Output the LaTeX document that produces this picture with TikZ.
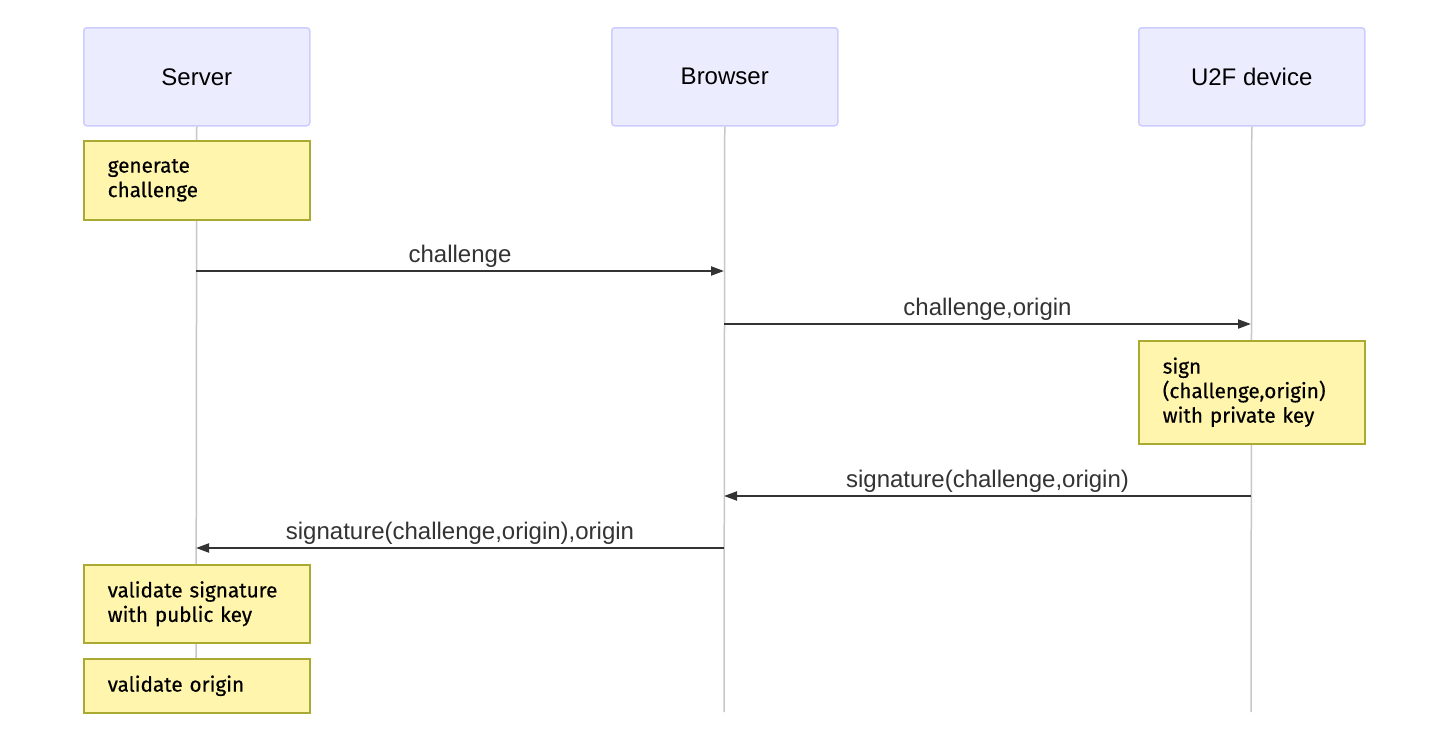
\documentclass[tikz,border=0pt]{standalone}
\usepackage{fontspec}
\setmainfont{Liberation Sans}
\newfontfamily\notefont[FakeBold=0.4]{Fira Sans}
\usetikzlibrary{arrows.meta}
\definecolor{actfill}{HTML}{ECECFF}
\definecolor{actdraw}{HTML}{CCCCFF}
\definecolor{notefill}{HTML}{FFF5AD}
\definecolor{notedraw}{HTML}{AAAA33}
\definecolor{msgcol}{HTML}{333333}
\tikzset{
  actor/.style={draw=actdraw, fill=actfill, line width=1.5pt, rounded corners=3pt,
    minimum width=226pt, minimum height=98pt, anchor=north west, inner sep=0pt,
    font=\fontsize{24pt}{28pt}\selectfont},
  lifeline/.style={draw=black!22, line width=1.5pt},
  notebox/.style={draw=notedraw, fill=notefill, line width=1.5pt, anchor=north west,
    minimum width=226pt, text width=178pt, inner xsep=24pt, inner ysep=0pt, align=left,
    font=\notefont\fontsize{20.7pt}{24.5pt}\selectfont},
  msg/.style={draw=msgcol, line width=2pt, -{Triangle[length=13pt,width=9pt]}},
  msglabel/.style={anchor=base, text=msgcol, font=\fontsize{24pt}{28pt}\selectfont, inner sep=0pt}
}
\begin{document}
\begin{tikzpicture}[x=1pt,y=-1pt]
\useasboundingbox (0,0) rectangle (1440,740);
\fill[white] (0,0) rectangle (1440,740);
% actors
\node[actor] (server) at (83,27) {Server};
\node[actor] (browser) at (611,27) {Browser};
\node[actor] (device) at (1138,27) {U2F device};
% lifeline ends
\coordinate (sEnd) at (196,712);
\coordinate (bEnd) at (724,712);
\coordinate (dEnd) at (1251,712);
\draw[lifeline] (server.south) -- (sEnd);
\draw[lifeline] (browser.south) -- (bEnd);
\draw[lifeline] (device.south) -- (dEnd);
% notes
\node[notebox, minimum height=79pt] (n1) at (83,140) {generate\\challenge};
\node[notebox, minimum height=103pt] (n2) at (1138,340) {sign\\(challenge,origin)\\with private key};
\node[notebox, minimum height=78pt] (n3) at (83,564) {validate signature\\with public key};
\node[notebox, minimum height=54pt] (n4) at (83,658) {validate origin};
% message anchor points
\coordinate (s1) at (196,271); \coordinate (b1) at (724,271);
\coordinate (b2) at (724,324); \coordinate (d2) at (1251,324);
\coordinate (d3) at (1251,496); \coordinate (b3) at (724,496);
\coordinate (b4) at (724,548); \coordinate (s4) at (196,548);
\draw[msg] (s1) -- (b1);
\draw[msg] (b2) -- (d2);
\draw[msg] (d3) -- (b3);
\draw[msg] (b4) -- (s4);
\node[msglabel] (l1) at (460,262) {challenge};
\node[msglabel] (l2) at (987.5,315) {challenge,origin};
\node[msglabel] (l3) at (987.5,487) {signature(challenge,origin)};
\node[msglabel] (l4) at (460,539) {signature(challenge,origin),origin};
\end{tikzpicture}
\end{document}
